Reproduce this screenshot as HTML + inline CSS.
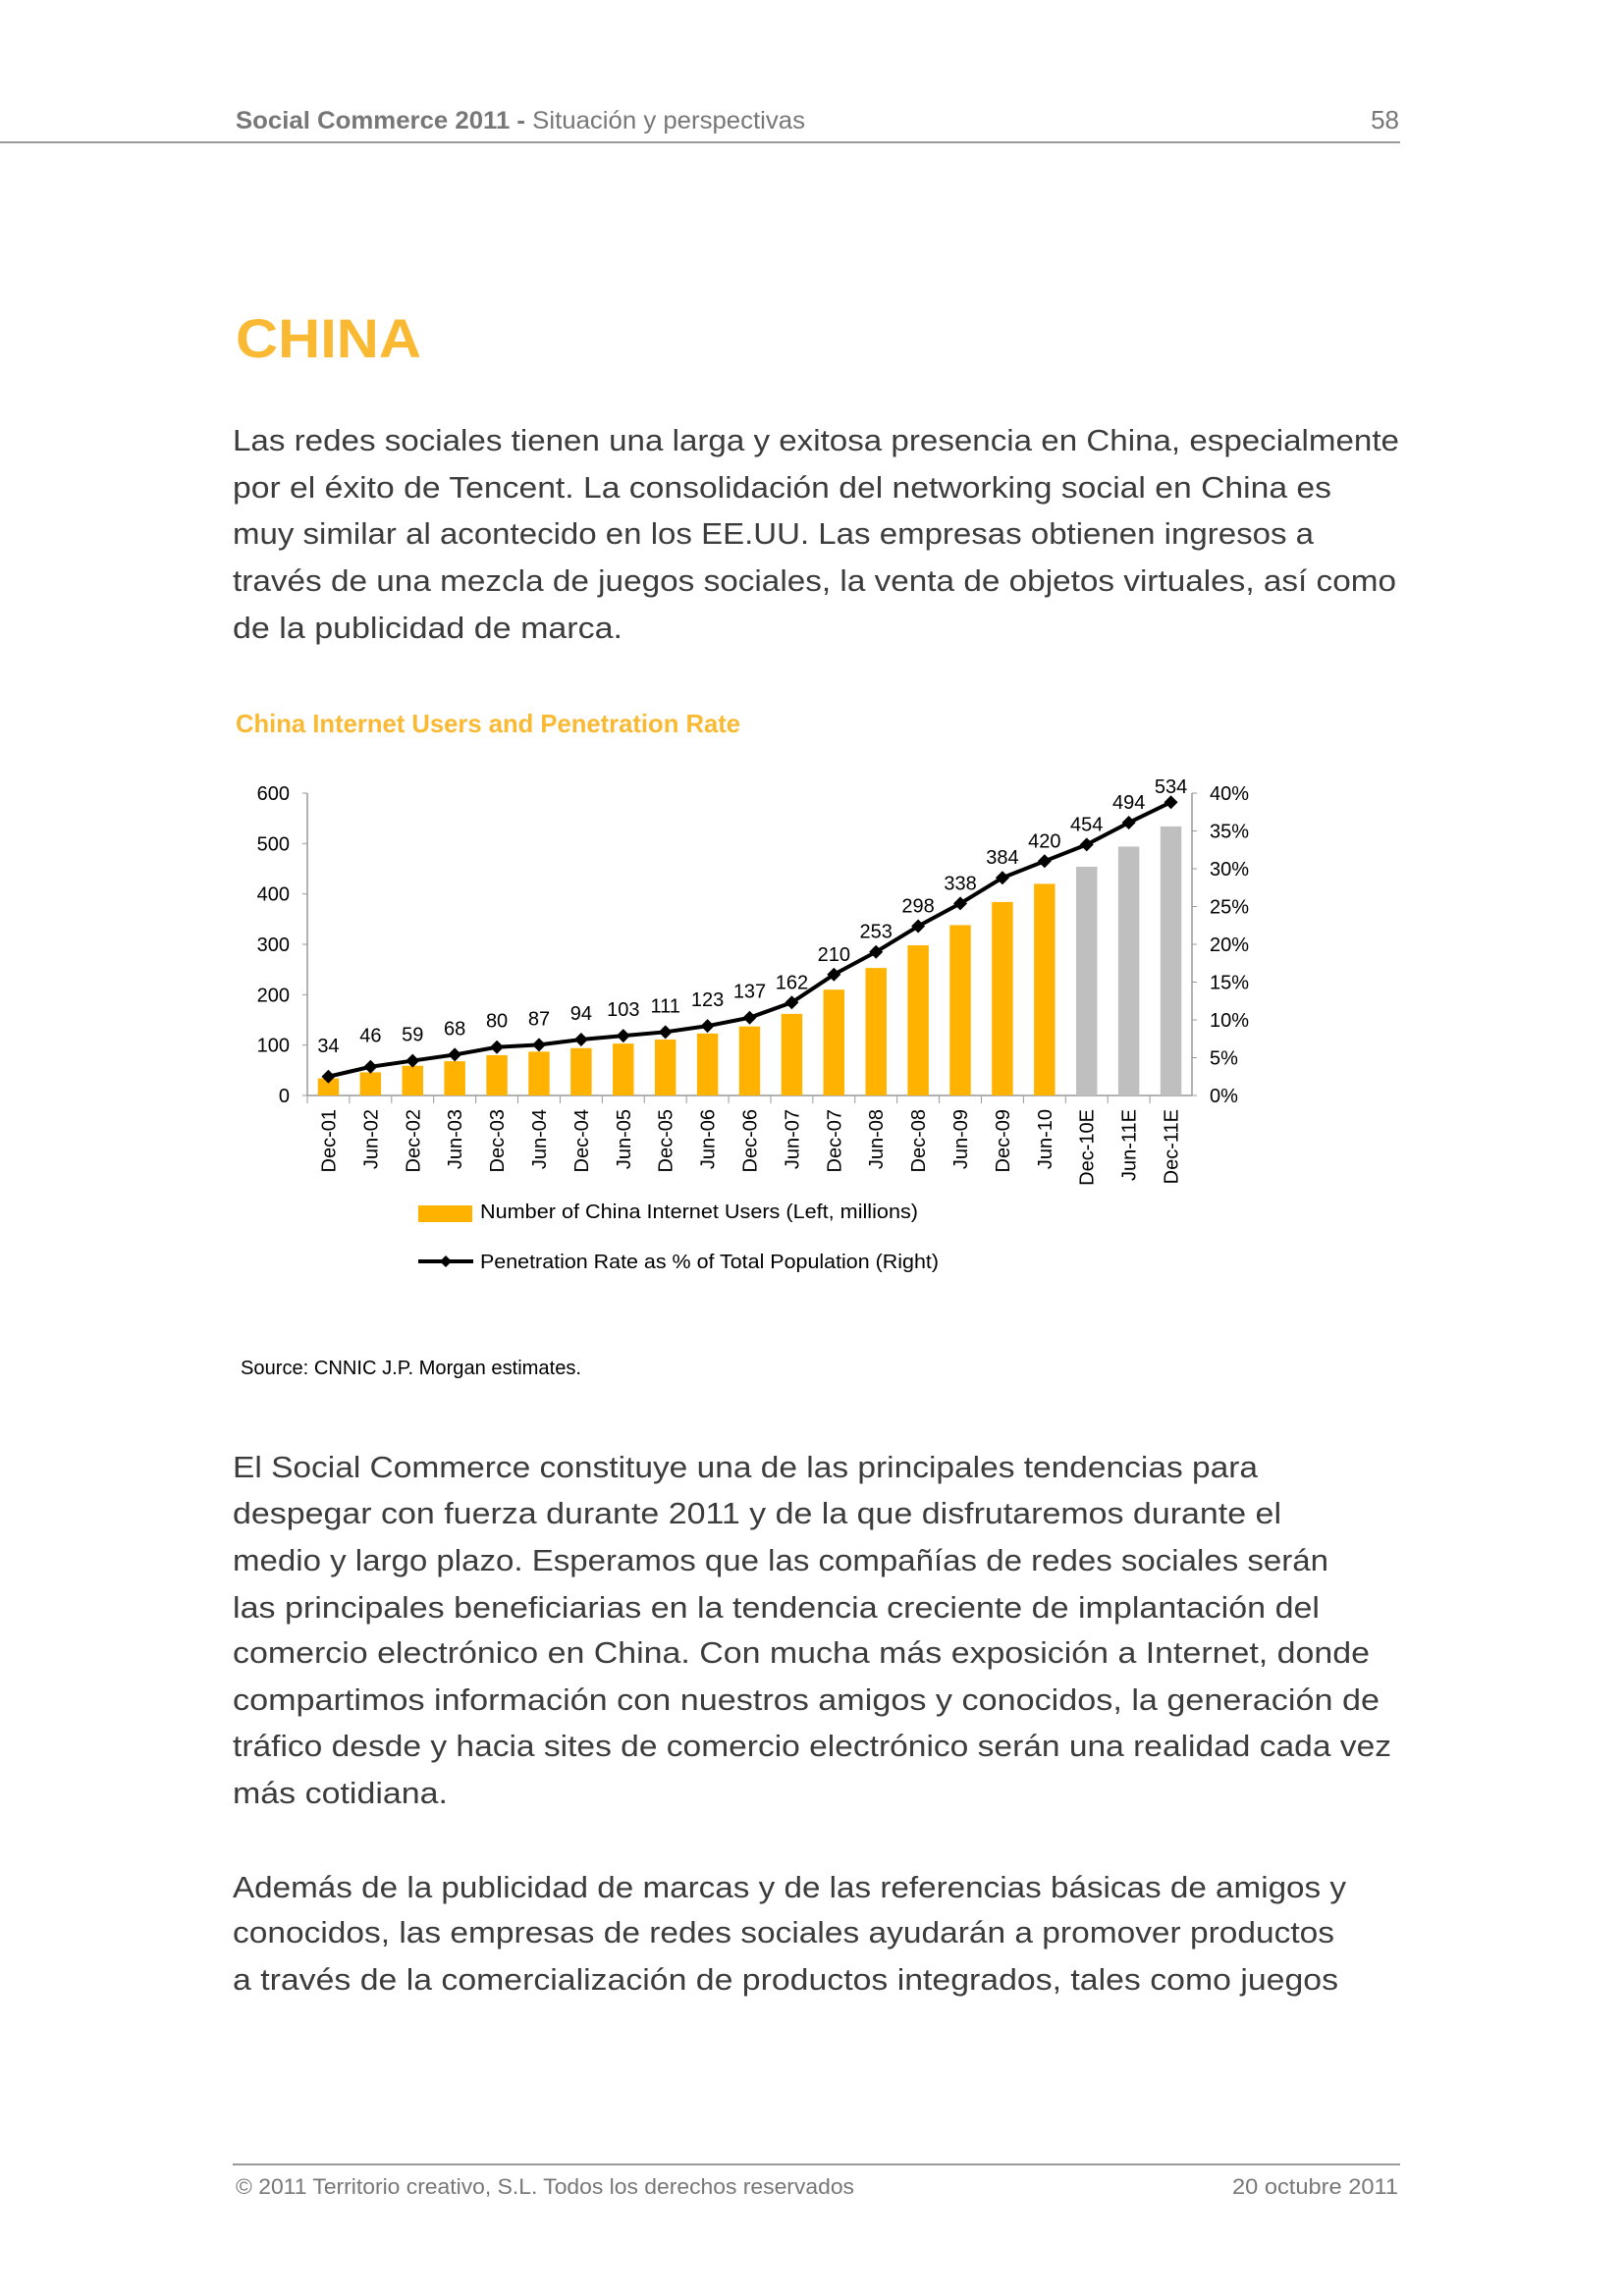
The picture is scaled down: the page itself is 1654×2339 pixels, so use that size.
<!DOCTYPE html>
<html><head><meta charset="utf-8">
<style>
html,body{margin:0;padding:0;background:#fff;}
svg{display:block;}
.body{font-family:"Liberation Sans",sans-serif;font-size:31px;fill:#3c3c3c;}
.ax{font-family:"Liberation Sans",sans-serif;font-size:20px;fill:#000;}
</style></head>
<body>
<svg id="page" width="1654" height="2339" viewBox="0 0 1654 2339" xmlns="http://www.w3.org/2000/svg">
<text x="240" y="131" font-family="Liberation Sans, sans-serif" font-size="25" fill="#777" textLength="580" lengthAdjust="spacingAndGlyphs"><tspan font-weight="bold">Social Commerce 2011 -</tspan> Situación y perspectivas</text>
<text x="1425" y="131" text-anchor="end" font-family="Liberation Sans, sans-serif" font-size="26" fill="#777">58</text>
<line x1="0" y1="145" x2="1426" y2="145" stroke="#999" stroke-width="2"/>
<text x="240" y="364" font-family="Liberation Sans, sans-serif" font-weight="bold" font-size="56" fill="#F9B933" textLength="189" lengthAdjust="spacingAndGlyphs">CHINA</text>

<g class="body">
<text x="237" y="459" textLength="1188" lengthAdjust="spacingAndGlyphs">Las redes sociales tienen una larga y exitosa presencia en China, especialmente</text>
<text x="237" y="507" textLength="1119" lengthAdjust="spacingAndGlyphs">por el éxito de Tencent. La consolidación del networking social en China es</text>
<text x="237" y="554" textLength="1101" lengthAdjust="spacingAndGlyphs">muy similar al acontecido en los EE.UU. Las empresas obtienen ingresos a</text>
<text x="237" y="602" textLength="1185" lengthAdjust="spacingAndGlyphs">través de una mezcla de juegos sociales, la venta de objetos virtuales, así como</text>
<text x="237" y="650" textLength="397" lengthAdjust="spacingAndGlyphs">de la publicidad de marca.</text>
</g>

<text x="240" y="746" font-family="Liberation Sans Narrow, Liberation Sans, sans-serif" font-weight="bold" font-size="26" fill="#F9B933" textLength="514" lengthAdjust="spacingAndGlyphs">China Internet Users and Penetration Rate</text>

<g id="chart"></g>

<g>
<rect x="426" y="1228" width="55" height="17" fill="#FFB300"/>
<text class="ax" x="489" y="1241" textLength="446" lengthAdjust="spacingAndGlyphs">Number of China Internet Users (Left, millions)</text>
<line x1="426" y1="1285" x2="482" y2="1285" stroke="#000" stroke-width="4"/>
<path d="M454 1279 L460 1285 L454 1291 L448 1285 Z" fill="#000"/>
<text class="ax" x="489" y="1292" textLength="467" lengthAdjust="spacingAndGlyphs">Penetration Rate as % of Total Population (Right)</text>
</g>
<text class="ax" x="245" y="1400" textLength="347" lengthAdjust="spacingAndGlyphs">Source: CNNIC J.P. Morgan estimates.</text>

<g class="body">
<text x="237" y="1505" textLength="1044" lengthAdjust="spacingAndGlyphs">El Social Commerce constituye una de las principales tendencias para</text>
<text x="237" y="1552" textLength="1068" lengthAdjust="spacingAndGlyphs">despegar con fuerza durante 2011 y de la que disfrutaremos durante el</text>
<text x="237" y="1600" textLength="1116" lengthAdjust="spacingAndGlyphs">medio y largo plazo. Esperamos que las compañías de redes sociales serán</text>
<text x="237" y="1648" textLength="1107" lengthAdjust="spacingAndGlyphs">las principales beneficiarias en la tendencia creciente de implantación del</text>
<text x="237" y="1694" textLength="1158" lengthAdjust="spacingAndGlyphs">comercio electrónico en China. Con mucha más exposición a Internet, donde</text>
<text x="237" y="1742" textLength="1168" lengthAdjust="spacingAndGlyphs">compartimos información con nuestros amigos y conocidos, la generación de</text>
<text x="237" y="1789" textLength="1180" lengthAdjust="spacingAndGlyphs">tráfico desde y hacia sites de comercio electrónico serán una realidad cada vez</text>
<text x="237" y="1837" textLength="219" lengthAdjust="spacingAndGlyphs">más cotidiana.</text>
</g>
<g class="body">
<text x="237" y="1933" textLength="1134" lengthAdjust="spacingAndGlyphs">Además de la publicidad de marcas y de las referencias básicas de amigos y</text>
<text x="237" y="1979" textLength="1122" lengthAdjust="spacingAndGlyphs">conocidos, las empresas de redes sociales ayudarán a promover productos</text>
<text x="237" y="2027" textLength="1126" lengthAdjust="spacingAndGlyphs">a través de la comercialización de productos integrados, tales como juegos</text>
</g>

<line x1="237" y1="2205" x2="1426" y2="2205" stroke="#999" stroke-width="2"/>
<text x="240" y="2235" font-family="Liberation Sans, sans-serif" font-size="22" fill="#777" textLength="630" lengthAdjust="spacingAndGlyphs">© 2011 Territorio creativo, S.L. Todos los derechos reservados</text>
<text x="1424" y="2235" text-anchor="end" font-family="Liberation Sans, sans-serif" font-size="22" fill="#777" textLength="169" lengthAdjust="spacingAndGlyphs">20 octubre 2011</text>
</svg>
<script>
const categories=["Dec-01","Jun-02","Dec-02","Jun-03","Dec-03","Jun-04","Dec-04","Jun-05","Dec-05","Jun-06","Dec-06","Jun-07","Dec-07","Jun-08","Dec-08","Jun-09","Dec-09","Jun-10","Dec-10E","Jun-11E","Dec-11E"];
const users=[34,46,59,68,80,87,94,103,111,123,137,162,210,253,298,338,384,420,454,494,534];
const estimated=[false,false,false,false,false,false,false,false,false,false,false,false,false,false,false,false,false,false,true,true,true];
const penetration=[2.5,3.8,4.6,5.4,6.4,6.7,7.4,7.9,8.4,9.2,10.3,12.3,16.0,19.0,22.4,25.4,28.8,31.0,33.2,36.1,38.8];
const leftTicks=[0,100,200,300,400,500,600];
const rightTicks=[0,5,10,15,20,25,30,35,40];

const NS="http://www.w3.org/2000/svg";
const g=document.getElementById('chart');
const X0=313,X1=1214,Y0=1116,Y1=808;
const band=(X1-X0)/categories.length;
const xc=i=>X0+band*(i+0.5);
const yL=v=>Y0-(v/600)*(Y0-Y1);
const yR=v=>Y0-(v/40)*(Y0-Y1);
function mk(tag,attrs,parent){const e=document.createElementNS(NS,tag);for(const k in attrs)e.setAttribute(k,attrs[k]);(parent||g).appendChild(e);return e;}

let a=mk('line',{x1:X0,y1:Y1,x2:X0,y2:Y0,stroke:'#999','stroke-width':1.5});


a=mk('line',{x1:X1,y1:Y1,x2:X1,y2:Y0,stroke:'#999','stroke-width':1.5});


a=mk('line',{x1:X0,y1:Y0,x2:X1,y2:Y0,stroke:'#999','stroke-width':1.5});


leftTicks.forEach(v=>{
  mk('line',{x1:X0-5,y1:yL(v),x2:X0,y2:yL(v),stroke:'#999'});
  const t=mk('text',{x:X0-18,y:yL(v)+7,'text-anchor':'end',class:'ax'});t.textContent=v;
  
  
});
rightTicks.forEach(v=>{
  mk('line',{x1:X1,y1:yR(v),x2:X1+5,y2:yR(v),stroke:'#999'});
  const t=mk('text',{x:X1+18,y:yR(v)+7,class:'ax'});t.textContent=v+'%';
  
  
});
categories.forEach((c,i)=>{
  mk('line',{x1:X0+band*i,y1:Y0,x2:X0+band*i,y2:Y0+8,stroke:'#999'});
  const bw=band*0.5;
  const r=mk('rect',{x:xc(i)-bw/2,y:yL(users[i]),width:bw,height:Y0-yL(users[i]),fill:estimated[i]?'#BFBFBF':'#FFB300'});
  
  
  const t=mk('text',{class:'ax',transform:`translate(${xc(i)+7},1130) rotate(-90)`,'text-anchor':'end','font-size':21});
  t.textContent=c;
  
  
});
const pts=penetration.map((p,i)=>xc(i)+','+yR(p)).join(' ');
const pl=mk('polyline',{points:pts,fill:'none',stroke:'#000','stroke-width':4,'stroke-linejoin':'round'});


penetration.forEach((p,i)=>{
  const x=xc(i),y=yR(p);
  const d=mk('path',{d:`M${x} ${y-7} L${x+7} ${y} L${x} ${y+7} L${x-7} ${y} Z`,fill:'#000'});
  
  
  const off=i<2?25:(i<11?20:(i<20?14:9));
  const t=mk('text',{x:x,y:y-off,'text-anchor':'middle',class:'ax','font-size':21});
  t.textContent=users[i];
  
  
});
</script>
</body></html>
